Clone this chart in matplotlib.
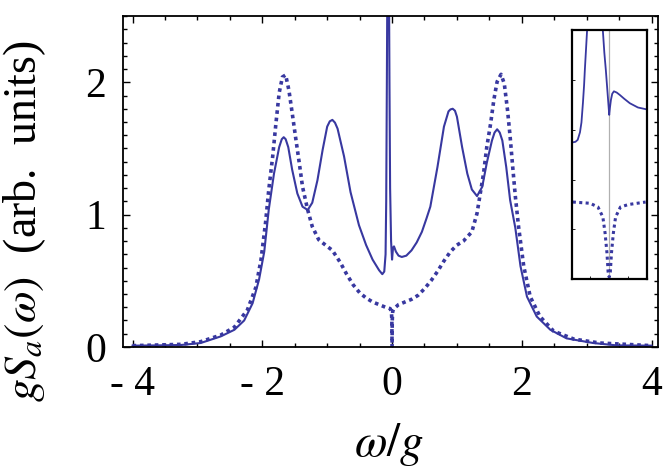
import matplotlib
matplotlib.use("Agg")
import matplotlib.pyplot as plt
from matplotlib.ticker import MultipleLocator, FixedLocator, FixedFormatter

plt.rcParams['font.family'] = ['Liberation Serif', 'DejaVu Serif']
plt.rcParams['mathtext.fontset'] = 'stix'

blue = '#3838a0'

# main spectrum, solid curve
w_solid = [-4.0, -3.6, -3.25, -2.95, -2.64, -2.43, -2.28, -2.15, -2.05, -1.97, -1.90,
           -1.82, -1.74, -1.70, -1.67, -1.64, -1.60, -1.54, -1.46, -1.38, -1.30, -1.23,
           -1.15, -1.07, -1.0, -0.96, -0.92, -0.88, -0.84, -0.74, -0.64, -0.51, -0.4,
           -0.3, -0.2, -0.15, -0.12, -0.1, -0.09, -0.08, -0.07, -0.05, -0.04, -0.03,
           -0.015, 0.0, 0.015, 0.03, 0.06, 0.1, 0.15, 0.22, 0.3, 0.38, 0.46, 0.53, 0.59,
           0.70, 0.80, 0.87, 0.90, 0.935, 0.97, 1.0, 1.08, 1.16, 1.23, 1.31, 1.39, 1.46,
           1.54, 1.58, 1.62, 1.66, 1.70, 1.76, 1.82, 1.90, 1.98, 2.08, 2.23, 2.44, 2.69,
           3.1, 3.46, 4.0]
s_solid = [0.01, 0.012, 0.015, 0.03, 0.08, 0.13, 0.20, 0.33, 0.51, 0.72, 1.04,
           1.31, 1.51, 1.57, 1.585, 1.57, 1.51, 1.34, 1.16, 1.06, 1.035, 1.09,
           1.26, 1.49, 1.665, 1.705, 1.716, 1.695, 1.65, 1.44, 1.17, 0.92, 0.77,
           0.66, 0.58, 0.55, 0.57, 0.7, 1.1, 2.0, 3.0, 3.0, 2.0, 1.2,
           0.8, 0.66, 0.75, 0.76, 0.72, 0.69, 0.68, 0.69, 0.73, 0.79, 0.87, 0.97, 1.06,
           1.36, 1.665, 1.78, 1.795, 1.80, 1.785, 1.74, 1.51, 1.31, 1.19, 1.14, 1.21, 1.39,
           1.56, 1.62, 1.645, 1.62, 1.56, 1.36, 1.11, 0.90, 0.61, 0.38, 0.23, 0.13, 0.065,
           0.03, 0.012, 0.01]

# main spectrum, dotted curve
w_dot = [-4.0, -3.6, -3.25, -2.95, -2.64, -2.43, -2.23, -2.1, -2.02, -1.95, -1.90,
         -1.84, -1.79, -1.74, -1.69, -1.64, -1.59, -1.54, -1.48, -1.43, -1.38, -1.30,
         -1.23, -1.13, -1.0, -0.92, -0.8, -0.7, -0.6, -0.5, -0.4, -0.3, -0.2, -0.1,
         -0.03, -0.01, -0.003, 0.0, 0.003, 0.01, 0.03, 0.1, 0.2, 0.3, 0.4, 0.5, 0.6,
         0.7, 0.8, 0.9, 1.0, 1.10, 1.23, 1.31, 1.36, 1.41, 1.46, 1.52, 1.57, 1.62, 1.68,
         1.73, 1.78, 1.82, 1.86, 1.90, 1.95, 1.99, 2.03, 2.13, 2.28, 2.49, 2.8, 3.2,
         3.6, 4.0]
s_dot = [0.01, 0.015, 0.02, 0.04, 0.09, 0.15, 0.28, 0.45, 0.66, 0.94, 1.19,
         1.44, 1.69, 1.92, 2.04, 2.055, 1.94, 1.77, 1.56, 1.39, 1.21, 1.035,
         0.91, 0.81, 0.76, 0.73, 0.64, 0.55, 0.47, 0.41, 0.37, 0.34, 0.32, 0.30,
         0.29, 0.27, 0.2, 0.0, 0.2, 0.27, 0.29, 0.32, 0.34, 0.36, 0.39, 0.44, 0.50,
         0.57, 0.65, 0.72, 0.77, 0.80, 0.87, 1.01, 1.16, 1.31, 1.51, 1.69, 1.87, 2.005, 2.06,
         1.99, 1.79, 1.59, 1.36, 1.14, 0.91, 0.76, 0.61, 0.38, 0.23, 0.12, 0.06, 0.03,
         0.02, 0.01]

# inset: zoom around omega = 0 (arbitrary units)
u_solid = [-0.97, -0.9, -0.84, -0.78, -0.74, -0.70, -0.67, -0.65, -0.62, -0.59, -0.45,
           -0.25, -0.17, -0.13, -0.09, -0.06, -0.035, -0.015, 0.0, 0.02, 0.045, 0.08,
           0.125, 0.2, 0.285, 0.4, 0.55, 0.765, 0.98]
v_solid = [0.55, 0.552, 0.56, 0.59, 0.63, 0.71, 0.78, 0.84, 0.92, 1.0, 1.3,
           1.3, 1.0, 0.91, 0.84, 0.78, 0.73, 0.69, 0.66, 0.69, 0.72, 0.745,
           0.755, 0.75, 0.74, 0.725, 0.707, 0.69, 0.683]
u_dot = [-0.97, -0.51, -0.30, -0.17, -0.11, -0.06, -0.03, 0.0, 0.03, 0.06, 0.11, 0.17,
         0.30, 0.51, 0.97]
v_dot = [0.31, 0.305, 0.29, 0.25, 0.185, 0.105, 0.03, 0.008, 0.03, 0.105, 0.185, 0.25,
         0.29, 0.30, 0.31]

xticks = [-4, -2, 0, 2, 4]
xticklabels = ['- 4', '- 2', '0', '2', '4']
yticks = [0, 1, 2]

fig = plt.figure(figsize=(6.64, 4.74), dpi=100)
ax = fig.add_axes([0.185, 0.268, 0.806, 0.698])

ax.plot(w_solid, s_solid, color=blue, lw=1.5)
ax.plot(w_dot, s_dot, color=blue, lw=2.6, ls=(0, (1, 1.05)))

ax.set_xlim(-4.15, 4.1)
ax.set_ylim(0, 2.5)
ax.xaxis.set_major_locator(FixedLocator(xticks))
ax.xaxis.set_major_formatter(FixedFormatter(xticklabels))
ax.xaxis.set_minor_locator(MultipleLocator(0.5))
ax.yaxis.set_major_locator(FixedLocator(yticks))
ax.yaxis.set_minor_locator(MultipleLocator(0.1))

ax.tick_params(which='both', direction='in', top=True, right=True, width=1.0)
ax.tick_params(which='major', length=5)
ax.tick_params(which='minor', length=3)
ax.tick_params(axis='x', labelsize=30, pad=13)
ax.tick_params(axis='y', labelsize=30, pad=12)
for sp in ax.spines.values():
    sp.set_linewidth(1.3)

ax.set_xlabel(r'$\omega/g$', fontsize=34)
ax.set_ylabel(r'$gS_a(\omega)$  (arb.  units)', fontsize=33)
ax.xaxis.set_label_coords(0.497, -0.225)
ax.yaxis.set_label_coords(-0.14, 0.38)

# inset
ins = fig.add_axes([0.861, 0.411, 0.113, 0.525])
ins.axvline(0, color='#b0b0b0', lw=0.9)
ins.plot(u_solid, v_solid, color=blue, lw=1.3)
ins.plot(u_dot, v_dot, color=blue, lw=2.2, ls=(0, (1, 1.1)))
ins.set_xlim(-1, 1)
ins.set_ylim(0, 1)
ins.set_xticks([-0.5, 0, 0.5])
ins.set_yticks([0.2, 0.4, 0.6, 0.8])
ins.tick_params(direction='in', length=2, width=0.6, labelbottom=False, labelleft=False)
for sp in ins.spines.values():
    sp.set_linewidth(1.6)

fig.savefig('out.png', dpi=100)
